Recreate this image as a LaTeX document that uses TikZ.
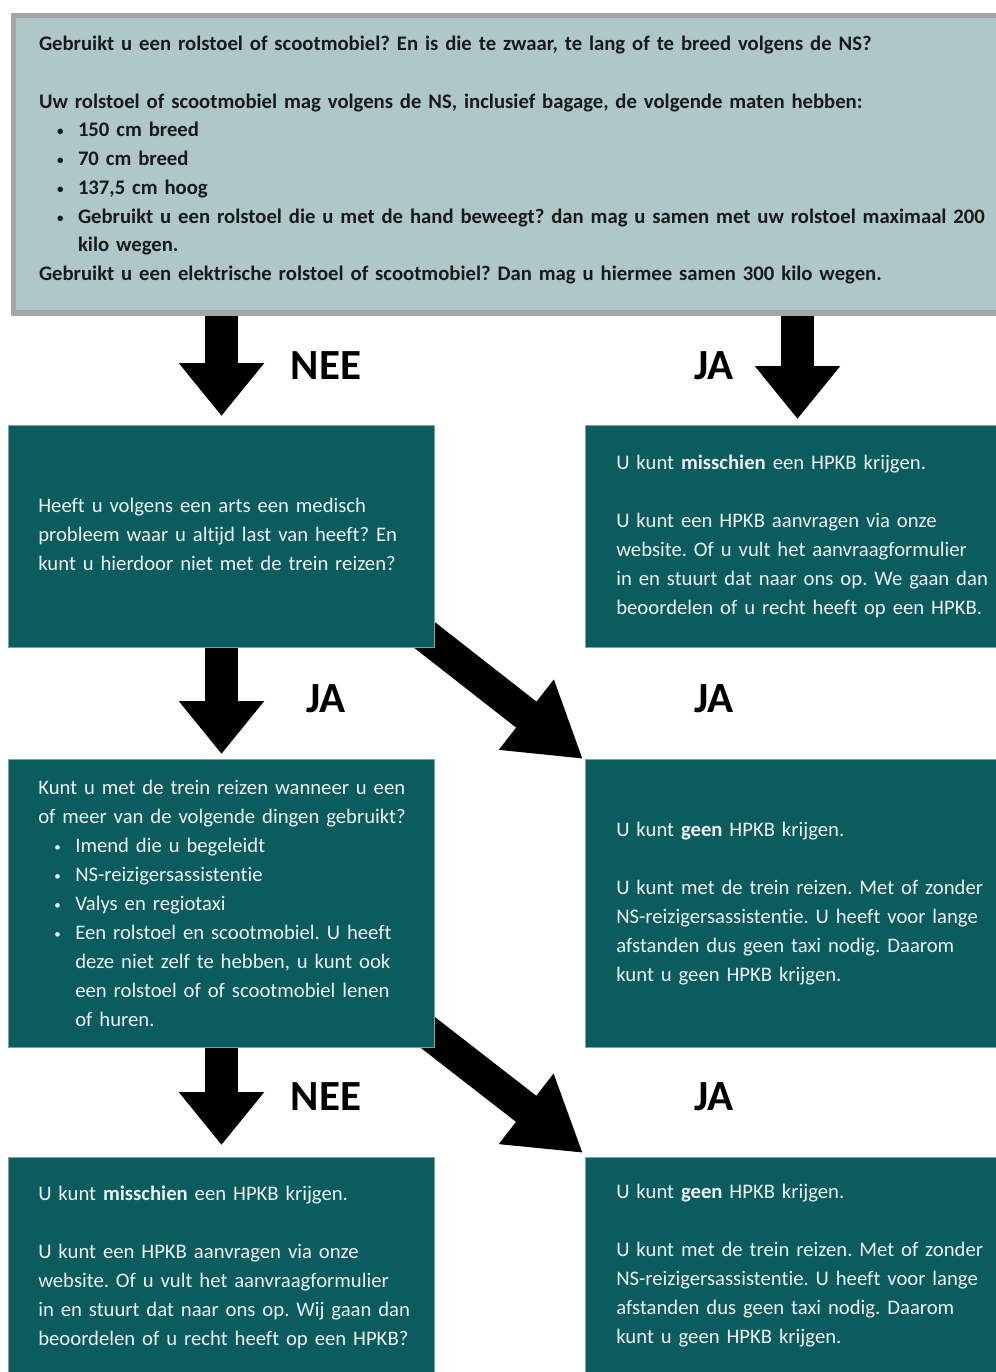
\documentclass[tikz,border=0pt]{standalone}
\usepackage{fontspec}
\setmainfont{Carlito}[Ligatures=NoCommon]
\usepackage{tikz}
\usetikzlibrary{arrows.meta,calc,backgrounds}
\definecolor{nsteal}{HTML}{0A5C5E}
\definecolor{nslicht}{HTML}{AEC8C9}
\definecolor{nsrand}{HTML}{A6A6A6}
\newcommand{\bul}{\hspace*{16pt}\makebox[21pt][l]{\raisebox{1pt}{\fontsize{13}{13}\selectfont\textbullet}}}
\newcommand{\ind}{\hspace*{37pt}}
\frenchspacing

\begin{document}
\begin{tikzpicture}[x=1pt,y=-1pt,
  blok/.style={rectangle, fill=nsteal, draw=nsteal!55!white, line width=0.6pt,
    text=white!94!black, anchor=north west, align=left,
    font=\fontsize{20.7}{29}\selectfont},
  links/.style={blok, minimum width=426pt, inner xsep=30pt, text width=366pt},
  rechts/.style={blok, minimum width=415pt, inner xsep=31pt, text width=385pt},
  pijl/.style={line width=33pt, -{Triangle[width=82pt,length=53pt]}},
  schuin/.style={line width=33pt, -{Triangle[width=84pt,length=72pt]}},
  antw/.style={font=\bfseries\fontsize{43}{43}\selectfont}]
  \useasboundingbox (0,0) rectangle (995,1372);

  % vraag bovenaan
  \node[rectangle, anchor=north west, fill=nslicht, draw=nsrand, line width=5.5pt,
    minimum width=1000pt, minimum height=297.5pt, inner xsep=25.25pt, text width=949pt,
    align=left, text=black!90, font=\bfseries\fontsize{20.7}{28.75}\selectfont]
    (top) at (10.75,12.75) {Gebruikt u een rolstoel of scootmobiel? En is die te zwaar, te lang of te breed volgens de NS?\\[28.75pt]
    Uw rolstoel of scootmobiel mag volgens de NS, inclusief bagage, de volgende maten hebben:\\
    \hspace*{2pt}\bul 150 cm breed\\
    \hspace*{2pt}\bul 70 cm breed\\
    \hspace*{2pt}\bul 137,5 cm hoog\\
    \hspace*{2pt}\bul Gebruikt u een rolstoel die u met de hand beweegt? dan mag u samen met uw rolstoel maximaal 200\\
    \hspace*{2pt}\ind kilo wegen.\\
    Gebruikt u een elektrische rolstoel of scootmobiel? Dan mag u hiermee samen 300 kilo wegen.\rule[-12pt]{0pt}{0pt}};

  % rij 1
  \node[links, minimum height=222pt] (l1) at (8,425)
    {\mbox{Heeft u volgens een arts een medisch}\\
    \mbox{probleem waar u altijd last van heeft? En}\\
    \mbox{kunt u hierdoor niet met de trein reizen?}\rule[-4pt]{0pt}{0pt}};
  \node[rechts, minimum height=222pt] (r1) at (585,425)
    {U kunt \textbf{misschien} een HPKB krijgen.\\[29pt]
    U kunt een HPKB aanvragen via onze\\
    website. Of u vult het aanvraagformulier\\
    in en stuurt dat naar ons op. We gaan dan\\
    beoordelen of u recht heeft op een HPKB.};

  % rij 2
  \node[links, minimum height=288pt] (l2) at (8,759)
    {\mbox{Kunt u met de trein reizen wanneer u een}\\
    \mbox{of meer van de volgende dingen gebruikt?}\\
    \bul Imend die u begeleidt\\
    \bul NS-reizigersassistentie\\
    \bul Valys en regiotaxi\\
    \bul \mbox{Een rolstoel en scootmobiel. U heeft}\\
    \ind \mbox{deze niet zelf te hebben, u kunt ook}\\
    \ind \mbox{een rolstoel of of scootmobiel lenen}\\
    \ind of huren.};
  \node[rechts, minimum height=288pt] (r2) at (585,759)
    {U kunt \textbf{geen} HPKB krijgen.\\[29pt]
    U kunt met de trein reizen. Met of zonder\\
    NS-reizigersassistentie. U heeft voor lange\\
    afstanden dus geen taxi nodig. Daarom\\
    kunt u geen HPKB krijgen.};

  % rij 3
  \node[links, minimum height=216pt] (l3) at (8,1157)
    {\rule{0pt}{18pt}U kunt \textbf{misschien} een HPKB krijgen.\\[29pt]
    U kunt een HPKB aanvragen via onze\\
    \mbox{website. Of u vult het aanvraagformulier}\\
    \mbox{in en stuurt dat naar ons op. Wij gaan dan}\\
    \mbox{beoordelen of u recht heeft op een HPKB?}};
  \node[rechts, minimum height=216pt] (r3) at (585,1157)
    {U kunt \textbf{geen} HPKB krijgen.\\[29pt]
    U kunt met de trein reizen. Met of zonder\\
    NS-reizigersassistentie. U heeft voor lange\\
    afstanden dus geen taxi nodig. Daarom\\
    kunt u geen HPKB krijgen.};

  \coordinate (xl) at (221.5,0);
  \coordinate (xr) at (797.5,0);

  % pijlen
  \begin{scope}[on background layer]
    \draw[pijl, shorten >=9pt] (top.south -| xl) -- (l1.north -| xl);
    \draw[pijl, shorten >=6pt] (top.south -| xr) -- (r1.north -| xr);
    \draw[pijl, shorten >=5pt] (l1.south -| xl) -- (l2.north -| xl);
    \draw[pijl, shorten >=12pt] (l2.south -| xl) -- (l3.north -| xl);
    \draw[schuin] ($(l1.south east)+(-31,-29)$) -- ($(r2.north west)+(-2,0)$);
    \draw[schuin] ($(l2.south east)+(-31,-34)$) -- ($(r3.north west)+(-2,-4)$);
  \end{scope}

  \node[antw] (nee1) at (326,366) {NEE};
  \node[antw] (ja1) at (714,366) {JA};
  \node[antw] (ja2) at (326,699) {JA};
  \node[antw] (ja3) at (714,699) {JA};
  \node[antw] (nee2) at (326,1097) {NEE};
  \node[antw] (ja4) at (714,1097) {JA};
\end{tikzpicture}
\end{document}
